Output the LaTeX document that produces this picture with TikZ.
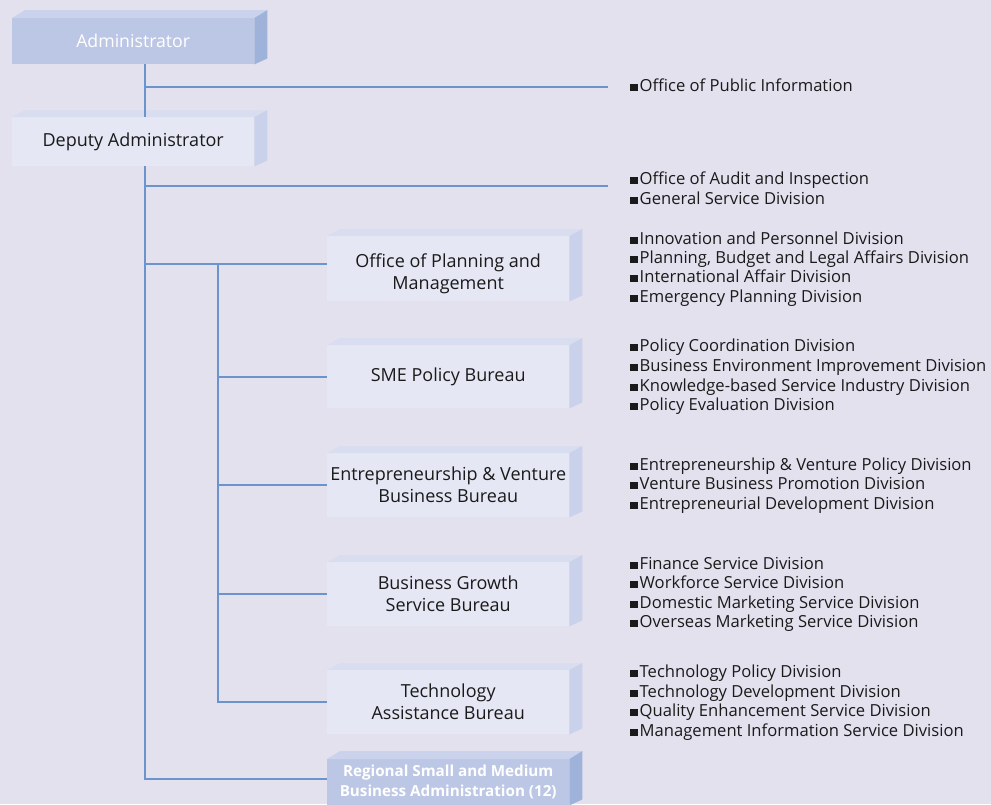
\documentclass[tikz,border=0pt]{standalone}
\usepackage{fontspec}
\setmainfont{Open Sans}
\definecolor{bg}{HTML}{E4E1EF}
\definecolor{frontL}{HTML}{E5E8F4}
\definecolor{topL}{HTML}{D8DDF0}
\definecolor{sideL}{HTML}{C9D2EA}
\definecolor{frontD}{HTML}{BCC7E5}
\definecolor{topD}{HTML}{CBD3EC}
\definecolor{sideD}{HTML}{9EB2DA}
\definecolor{lc}{HTML}{6B94CD}
\definecolor{txt}{HTML}{1A1A1A}
\begin{document}
\begin{tikzpicture}[x=1pt,y=-1pt,
  conn/.style={draw=lc, line width=2pt},
  boxbase/.style={anchor=north west, inner sep=0pt, minimum width=242pt, align=center},
  boxL/.style={boxbase, fill=frontL, text=txt, font=\fontsize{18}{22}\selectfont},
  boxD/.style={boxbase, fill=frontD, text=white},
  lst/.style={anchor=base west, inner sep=0pt, text=txt, font=\fontsize{16.6}{19}\selectfont}]
\fill[bg] (0,0) rectangle (991,804);
\useasboundingbox (0,0) rectangle (991,804);
\clip (0,0) rectangle (991,804);

% boxes
\node[boxD, minimum height=46pt, font=\fontsize{17.7}{20}\selectfont] (adm) at (12,18) {Administrator};
\node[boxL, minimum height=49pt] (dep) at (12,117) {Deputy Administrator};
\node[boxL, minimum height=65pt] (opm) at (327,236) {\rule{0pt}{24pt}Office of Planning and\\Management};
\node[boxL, minimum height=63pt] (sme) at (327,345) {SME Policy Bureau};
\node[boxL, minimum height=64pt] (evb) at (327,453) {Entrepreneurship \& Venture\\Business Bureau};
\node[boxL, minimum height=64pt] (bgs) at (327,562) {Business Growth\\Service Bureau};
\node[boxL, minimum height=64pt] (tab) at (327,670) {Technology\\Assistance Bureau};
\node[boxD, minimum height=46pt, font=\bfseries\fontsize{15.2}{20}\selectfont] (reg) at (327,759) {Regional Small and Medium\\Business Administration (12)};

% 3d faces
\foreach \n in {dep,opm,sme,evb,bgs,tab}{
  \fill[topL] (\n.north west) -- ++(13,-7) -- ([shift={(13,-7)}]\n.north east) -- (\n.north east) -- cycle;
  \fill[sideL] (\n.north east) -- ++(13,-7) -- ([shift={(13,-6)}]\n.south east) -- (\n.south east) -- cycle;
}
\foreach \n in {adm,reg}{
  \fill[topD] (\n.north west) -- ++(13,-8) -- ([shift={(13,-8)}]\n.north east) -- (\n.north east) -- cycle;
  \fill[sideD] (\n.north east) -- ++(13,-8) -- ([shift={(13,-6)}]\n.south east) -- (\n.south east) -- cycle;
}

% connectors
\coordinate (tx) at (145,0);
\coordinate (ix) at (218,0);
\coordinate (pi) at (608,87);
\coordinate (au) at (608,186);
\coordinate (regc) at (327,779);
\coordinate (opmc) at (327,264);
\draw[conn] (adm.south -| tx) -- (dep.north -| tx);
\draw[conn] (dep.south -| tx) -- (regc -| tx) -- (regc);
\draw[conn] (pi -| tx) -- (pi);
\draw[conn] (au -| tx) -- (au);
\draw[conn] (opmc -| tx) -- (opmc);
\draw[conn] (opmc -| ix) -- (tab.west -| ix) -- (tab.west);
\draw[conn] (sme.west -| ix) -- (sme.west);
\draw[conn] (evb.west -| ix) -- (evb.west);
\draw[conn] (bgs.west -| ix) -- (bgs.west);

% lists
\foreach \y/\t [count=\i] in {
  91/Office of Public Information,
  184/Office of Audit and Inspection,
  204/General Service Division,
  244/Innovation and Personnel Division,
  263/{Planning, Budget and Legal Affairs Division},
  282/International Affair Division,
  302/Emergency Planning Division,
  351/Policy Coordination Division,
  371/Business Environment Improvement Division,
  391/Knowledge-based Service Industry Division,
  410/Policy Evaluation Division,
  470/Entrepreneurship \& Venture Policy Division,
  489/Venture Business Promotion Division,
  509/Entrepreneurial Development Division,
  569/Finance Service Division,
  588/Workforce Service Division,
  608/Domestic Marketing Service Division,
  627/Overseas Marketing Service Division,
  677/Technology Policy Division,
  697/Technology Development Division,
  716/Quality Enhancement Service Division,
  736/Management Information Service Division}{
  \node[lst] (l\i) at (630,\y) {\rule{7.5pt}{7.5pt}\hspace{2pt}\t};
}
\end{tikzpicture}
\end{document}
